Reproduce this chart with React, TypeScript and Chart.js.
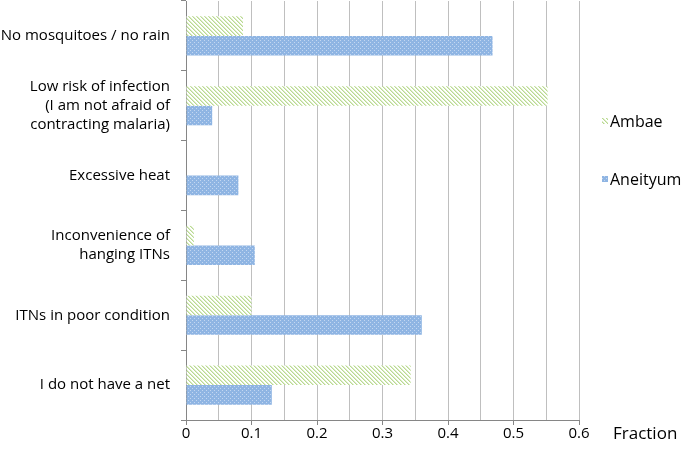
import React, { useEffect, useRef } from 'react';
import { Chart, registerables } from 'chart.js';

Chart.register(...registerables);

// ---- data ----
const categories: (string | string[])[] = [
  'No mosquitoes / no rain',
  ['Low risk of infection', '(I am not afraid of', 'contracting malaria)'],
  'Excessive heat',
  ['Inconvenience of', 'hanging ITNs'],
  'ITNs in poor condition',
  'I do not have a net',
];
const seriesNames = ['Ambae', 'Aneityum'];
const ambaeValues = [0.087, 0.552, 0, 0.012, 0.1, 0.343];
const aneityumValues = [0.468, 0.04, 0.08, 0.105, 0.36, 0.131];
const xMin = 0;
const xMax = 0.6;
const xStep = 0.05;
const xAxisTitle = 'Fraction';

const FONT = '"Open Sans", "Noto Sans", sans-serif';

function makeBluePattern(): CanvasPattern | string {
  const c = document.createElement('canvas');
  c.width = 4;
  c.height = 4;
  const g = c.getContext('2d');
  if (!g) return '#8db3e2';
  g.fillStyle = '#8fb5e3';
  g.fillRect(0, 0, 4, 4);
  g.fillStyle = '#c3d7f1';
  g.fillRect(0, 0, 1, 1);
  g.fillRect(2, 2, 1, 1);
  return g.createPattern(c, 'repeat') || '#8db3e2';
}

function makeGreenPattern(): CanvasPattern | string {
  const c = document.createElement('canvas');
  c.width = 4;
  c.height = 4;
  const g = c.getContext('2d');
  if (!g) return '#d7eac0';
  g.fillStyle = '#ffffff';
  g.fillRect(0, 0, 4, 4);
  for (let i = 0; i < 4; i++) {
    g.fillStyle = '#b9d992';
    g.fillRect(i, i, 1, 1);
    g.fillStyle = '#dcedc6';
    g.fillRect((i + 1) % 4, i, 1, 1);
  }
  return g.createPattern(c, 'repeat') || '#d7eac0';
}

const legendPlugin = {
  id: 'sideLegend',
  afterDraw(chart: any) {
    const { ctx, chartArea } = chart;
    ctx.save();
    ctx.font = `16px ${FONT}`;
    ctx.textBaseline = 'middle';
    ctx.textAlign = 'left';
    chart.data.datasets.forEach((ds: any, i: number) => {
      const x = chartArea.right + 23;
      const y = chartArea.top + 121 + i * 58;
      ctx.fillStyle = ds.backgroundColor;
      ctx.fillRect(x, y - 4, 6, 6);
      ctx.fillStyle = '#000';
      ctx.fillText(ds.label, x + 8, y);
    });
    ctx.restore();
  },
};

const axisTitlePlugin = {
  id: 'sideAxisTitle',
  afterDraw(chart: any) {
    const { ctx, chartArea } = chart;
    ctx.save();
    ctx.font = `17px ${FONT}`;
    ctx.textBaseline = 'middle';
    ctx.textAlign = 'left';
    ctx.fillStyle = '#000';
    ctx.fillText(xAxisTitle, chartArea.right + 34, chartArea.bottom + 14);
    ctx.restore();
  },
};

export default function App() {
  const canvasRef = useRef<HTMLCanvasElement | null>(null);

  useEffect(() => {
    if (!canvasRef.current) return;
    const chart = new Chart(canvasRef.current, {
      type: 'bar',
      data: {
        labels: categories as any,
        datasets: [
          {
            label: seriesNames[0],
            data: ambaeValues,
            backgroundColor: makeGreenPattern() as any,
            borderWidth: 0,
            categoryPercentage: 0.56,
            barPercentage: 1,
          },
          {
            label: seriesNames[1],
            data: aneityumValues,
            backgroundColor: makeBluePattern() as any,
            borderWidth: 0,
            categoryPercentage: 0.56,
            barPercentage: 1,
          },
        ],
      },
      options: {
        indexAxis: 'y',
        animation: false,
        responsive: true,
        maintainAspectRatio: false,
        layout: { padding: { top: 1, right: 106, left: 0, bottom: 0 } },
        plugins: {
          legend: { display: false },
          tooltip: { enabled: false },
        },
        scales: {
          x: {
            type: 'linear',
            min: xMin,
            max: xMax,
            ticks: {
              stepSize: xStep,
              color: '#000',
              font: { family: FONT, size: 15 },
              padding: 0,
              maxRotation: 0,
              autoSkip: false,
              callback: (v: any, i: number) => (i % 2 === 0 ? String(Math.round(Number(v) * 10) / 10) : ''),
            },
            grid: {
              color: '#bfbfbf',
              lineWidth: 1,
              tickLength: 5,
              tickColor: (ctx: any) => (ctx.index % 2 === 0 ? '#868686' : 'rgba(0,0,0,0)'),
            },
            border: { color: '#868686', width: 1 },
            afterFit: (scale: any) => {
              scale.height = 30;
              scale.paddingLeft = 0;
              scale.paddingRight = 0;
            },
          },
          y: {
            type: 'category',
            ticks: {
              color: '#000',
              font: { family: FONT, size: 15, lineHeight: '19px' as any },
              padding: 11,
              autoSkip: false,
            },
            grid: {
              display: true,
              drawOnChartArea: false,
              drawTicks: true,
              tickLength: 5,
              color: '#868686',
              offset: true,
            },
            border: { color: '#868686', width: 1 },
            afterFit: (scale: any) => {
              scale.width = 186;
              scale.paddingTop = 0;
              scale.paddingBottom = 0;
            },
          },
        },
      },
      plugins: [legendPlugin, axisTitlePlugin],
    });
    return () => chart.destroy();
  }, []);

  return (
    <div style={{ position: 'fixed', left: 0, top: 0, width: 685, height: 450, background: '#fff' }}>
      <canvas ref={canvasRef} />
    </div>
  );
}
